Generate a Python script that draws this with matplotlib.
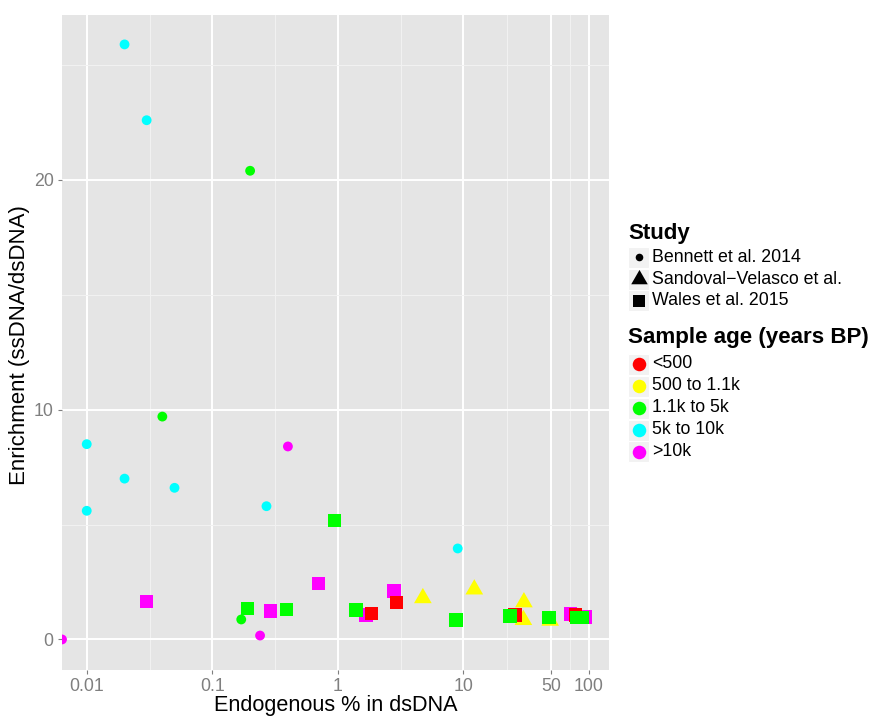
import numpy as np
import matplotlib
matplotlib.use("Agg")
import matplotlib.pyplot as plt
from matplotlib.patches import Rectangle
from matplotlib.ticker import FixedLocator, FixedFormatter, NullFormatter

plt.rcParams['font.family'] = ['Liberation Sans', 'DejaVu Sans']

# age classes and colours
ages = ['<500', '500 to 1.1k', '1.1k to 5k', '5k to 10k', '>10k']
age_colors = ['#FF0000', '#FFFF00', '#00FF00', '#00FFFF', '#FF00FF']
studies = ['Bennett et al. 2014', 'Sandoval\u2212Velasco et al.', 'Wales et al. 2015']

# Bennett et al. 2014 (circles)
bennett_x = [0.02, 0.03, 0.2, 0.04, 0.01, 0.4, 0.02, 0.05, 0.27, 0.01, 9.0, 0.17, 0.24, 0.0]
bennett_y = [25.9, 22.6, 20.4, 9.7, 8.5, 8.4, 7.0, 6.6, 5.8, 5.6, 3.96, 0.87, 0.17, 0.0]
bennett_age = ['5k to 10k', '5k to 10k', '1.1k to 5k', '1.1k to 5k', '5k to 10k', '>10k',
               '5k to 10k', '5k to 10k', '5k to 10k', '5k to 10k', '5k to 10k',
               '1.1k to 5k', '>10k', '>10k']

# Sandoval-Velasco et al. (triangles)
sandoval_x = [4.75, 12.2, 30.3, 30.0, 49.0]
sandoval_y = [1.80, 2.18, 1.62, 0.85, 0.82]
sandoval_age = ['500 to 1.1k'] * 5

# Wales et al. 2015 (squares)
wales_x = [0.03, 0.29, 0.70, 1.68, 2.81, 71.0, 93.0,
           1.86, 2.92, 25.8, 78.0,
           0.94, 0.19, 0.39, 1.39, 8.7, 23.5, 48.0, 80.0, 88.0]
wales_y = [1.64, 1.23, 2.44, 1.06, 2.10, 1.10, 0.98,
           1.13, 1.61, 1.06, 1.06,
           5.18, 1.35, 1.31, 1.28, 0.84, 1.03, 0.96, 0.96, 0.96]
wales_age = ['>10k'] * 7 + ['<500'] * 4 + ['1.1k to 5k'] * 9

W, H = 872, 716
xlim = (10 ** -2.197, 10 ** 2.159)
ylim = (-1.33, 27.18)

fig = plt.figure(figsize=(W / 100, H / 100), dpi=100)
ax = fig.add_axes([62 / W, 1 - 670 / H, (609 - 62) / W, (670 - 15) / H])
ax.set_facecolor('#E5E5E5')
for s in ax.spines.values():
    s.set_visible(False)

# equilateral triangle centred on its centroid
tri = [(-1, -0.5774), (1, -0.5774), (0, 1.1547)]
cmap = dict(zip(ages, age_colors))


def xs(vals):
    # zero endogenous content sits on the left edge like -Inf in a log scale
    v = np.array(vals, dtype=float)
    return np.where(v > 0, v, xlim[0])


ax.scatter(xs(bennett_x), bennett_y, s=50, marker='o', linewidths=0,
           c=[cmap[a] for a in bennett_age], zorder=3)
ax.scatter(xs(sandoval_x), sandoval_y, s=216, marker=tri, linewidths=0,
           c=[cmap[a] for a in sandoval_age], zorder=3)
ax.scatter(xs(wales_x), wales_y, s=94, marker='s', linewidths=0,
           c=[cmap[a] for a in wales_age], zorder=3)

ax.set_xscale('log')
ax.set_xlim(*xlim)
ax.set_ylim(*ylim)
xt = [0.01, 0.1, 1, 10, 50, 100]
ax.xaxis.set_major_locator(FixedLocator(xt))
ax.xaxis.set_major_formatter(FixedFormatter(['0.01', '0.1', '1', '10', '50', '100']))
xmin_t = [10 ** ((np.log10(a) + np.log10(b)) / 2) for a, b in zip(xt[:-1], xt[1:])]
ax.xaxis.set_minor_locator(FixedLocator(xmin_t))
ax.xaxis.set_minor_formatter(NullFormatter())
ax.set_yticks([0, 10, 20])
ax.set_yticks([5, 15, 25], minor=True)

ax.grid(which='major', color='white', lw=1.4)
ax.grid(which='minor', color='#F2F2F2', lw=0.7)
ax.set_axisbelow(True)
ax.tick_params(which='major', length=3, width=0.8, color='#7F7F7F',
               labelcolor='#7F7F7F', labelsize=12.8, pad=3)
ax.tick_params(which='minor', length=0)

fig.text(335.5 / W, 1 - 711.2 / H, 'Endogenous % in dsDNA', fontsize=15.6,
         ha='center', va='baseline')
fig.text(20 / W, 1 - 345 / H, 'Enrichment (ssDNA/dsDNA)', fontsize=16,
         rotation=90, ha='center', va='center')

# legends drawn in pixel space
lg = fig.add_axes([0, 0, 1, 1], facecolor='none')
lg.set_xlim(0, W)
lg.set_ylim(H, 0)
lg.axis('off')

key_x, key_w, key_h = 628, 21, 21
txt_x = 652

lg.text(628, 239.5, 'Study', fontsize=16, fontweight='bold', va='baseline')
study_rows = [257.3, 279, 300.5]
study_marks = [('o', 30), (tri, 190), ('s', 80)]
for lab, yc, (mk, sz) in zip(studies, study_rows, study_marks):
    lg.add_patch(Rectangle((key_x, yc - key_h / 2), key_w, key_h,
                           facecolor='#F2F2F2', edgecolor='white', lw=0.8))
    lg.scatter([key_x + key_w / 2], [yc], s=sz, marker=mk, c='black', linewidths=0)
    lg.text(txt_x, yc, lab, fontsize=12.8, va='center')

lg.text(628, 343, 'Sample age (years BP)', fontsize=16.1, fontweight='bold', va='baseline')
age_rows = [364, 386, 408, 430, 451.5]
for lab, col, yc in zip(ages, age_colors, age_rows):
    lg.add_patch(Rectangle((key_x, yc - key_h / 2), key_w, key_h,
                           facecolor='#F2F2F2', edgecolor='white', lw=0.8))
    lg.scatter([key_x + key_w / 2], [yc], s=95, marker='o', c=col, linewidths=0)
    lg.text(txt_x, yc, lab, fontsize=12.8, va='center')

fig.savefig('out.png', dpi=100)
